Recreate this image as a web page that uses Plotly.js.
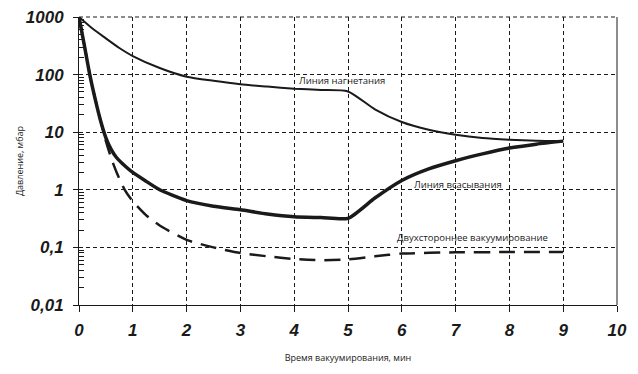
<!DOCTYPE html>
<html>
<head>
<meta charset="utf-8">
<script src="https://cdn.plot.ly/plotly-3.0.1.min.js"></script>
<style>html,body{margin:0;padding:0;background:#fff;}#chart{width:638px;height:374px;}</style>
</head>
<body>
<div id="chart"></div>
<script>
// Линия нагнетания
const xDischarge = [0, 0.25, 0.5, 0.75, 1, 1.5, 2, 2.5, 3, 3.5, 4, 4.5, 5, 5.5, 6, 6.5, 7, 7.5, 8, 8.5, 9];
const yDischarge = [1000, 630, 425, 290, 210, 130, 92, 78, 68, 62, 57, 54, 51, 25, 15, 11, 9, 7.9, 7.4, 7.1, 7];
// Линия всасывания
const xSuction = [0, 0.1, 0.2, 0.3, 0.4, 0.5, 0.6, 0.7, 0.8, 1, 1.25, 1.5, 2, 2.5, 3, 3.5, 4, 4.5, 5, 5.5, 6, 6.5, 7, 7.5, 8, 8.5, 9];
const ySuction = [1000, 320, 100, 38, 16, 8, 5, 3.6, 2.9, 2.0, 1.4, 1.0, 0.65, 0.52, 0.45, 0.38, 0.34, 0.33, 0.32, 0.72, 1.45, 2.3, 3.2, 4.2, 5.3, 6.2, 7];
// Двухстороннее вакуумирование
const xBoth = [0, 0.1, 0.2, 0.3, 0.4, 0.5, 0.6, 0.7, 0.85, 1, 1.25, 1.5, 2, 2.5, 3, 3.5, 4, 4.5, 5, 5.5, 6, 7, 8, 9];
const yBoth = [1000, 320, 100, 38, 16, 7, 3.5, 2.0, 1.0, 0.63, 0.36, 0.24, 0.135, 0.1, 0.08, 0.07, 0.063, 0.06, 0.062, 0.07, 0.078, 0.082, 0.083, 0.083];

const yTickVals = [0.01, 0.1, 1, 10, 100, 1000];
const yTickText = ['0,01', '0,1', '1', '10', '100', '1000'];
const yMinorVals = [];
for (const d of [0.01, 0.1, 1, 10, 100]) { for (let k = 2; k <= 9; k++) yMinorVals.push(d * k); }
const xTickVals = [0, 1, 2, 3, 4, 5, 6, 7, 8, 9, 10];

const traces = [
  {x: xDischarge, y: yDischarge, mode: 'lines', line: {color: '#1a1a1a', width: 2, shape: 'spline', smoothing: 0.6}},
  {x: xSuction, y: ySuction, mode: 'lines', line: {color: '#1a1a1a', width: 3.5, shape: 'spline', smoothing: 0.6}},
  {x: xBoth, y: yBoth, mode: 'lines', line: {color: '#1a1a1a', width: 2.5, dash: '16px,9px', shape: 'spline', smoothing: 0.6}}
];

const tickFont = {family: 'Liberation Sans, Arial, sans-serif', size: 17, color: '#1a1a1a', weight: 'bold', style: 'italic'};
const smallFont = {family: 'Open Sans, sans-serif', size: 9, color: '#1a1a1a'};

const layout = {
  width: 638, height: 374,
  margin: {l: 79, r: 21, t: 17, b: 69},
  paper_bgcolor: '#fff', plot_bgcolor: '#fff',
  showlegend: false,
  xaxis: {
    range: [0, 10], tickvals: xTickVals, ticks: 'outside', ticklen: 6, tickcolor: '#1a1a1a',
    showline: true, linecolor: '#1a1a1a', linewidth: 1, zeroline: false,
    showgrid: true, gridcolor: '#1a1a1a', gridwidth: 1, griddash: '4px,3px',
    tickfont: tickFont, ticklabelstandoff: 4,
    title: {text: 'Время вакуумирования, мин', font: smallFont, standoff: 15},
    automargin: false
  },
  yaxis: {
    type: 'log', range: [-2, 3], tickvals: yTickVals, ticktext: yTickText,
    ticks: 'outside', ticklen: 5, tickcolor: '#1a1a1a',
    showline: true, linecolor: '#1a1a1a', linewidth: 1, zeroline: false,
    showgrid: true, gridcolor: '#1a1a1a', gridwidth: 1, griddash: '4px,3px',
    tickfont: tickFont, ticklabelstandoff: 6,
    minor: {tickmode: 'array', tickvals: yMinorVals, ticks: 'inside', ticklen: 5, tickcolor: '#1a1a1a', showgrid: false},
    title: {text: 'Давление, мбар', font: smallFont, standoff: 0},
    automargin: false
  },
  shapes: [
    {type: 'line', xref: 'paper', yref: 'paper', x0: 1, x1: 1, y0: 0, y1: 1, line: {color: '#1a1a1a', width: 1}},
    {type: 'line', xref: 'paper', yref: 'paper', x0: 0, x1: 1, y0: 1, y1: 1, line: {color: '#1a1a1a', width: 1, dash: '4px,3px'}}
  ],
  annotations: [
    {text: 'Линия нагнетания', x: 4.05, y: 1.89, xref: 'x', yref: 'y', xanchor: 'left', yanchor: 'middle', showarrow: false, font: {family: 'Open Sans, sans-serif', size: 9.5, color: '#1a1a1a'}},
    {text: 'Линия всасывания', x: 6.19, y: 0.1, xref: 'x', yref: 'y', xanchor: 'left', yanchor: 'middle', showarrow: false, font: {family: 'Open Sans, sans-serif', size: 9.5, color: '#1a1a1a'}},
    {text: 'Двухстороннее вакуумирование', x: 5.87, y: -0.82, xref: 'x', yref: 'y', xanchor: 'left', yanchor: 'middle', showarrow: false, font: {family: 'Open Sans, sans-serif', size: 9.5, color: '#1a1a1a'}}
  ]
};

Plotly.newPlot('chart', traces, layout, {displayModeBar: false, staticPlot: true});
</script>
</body>
</html>
